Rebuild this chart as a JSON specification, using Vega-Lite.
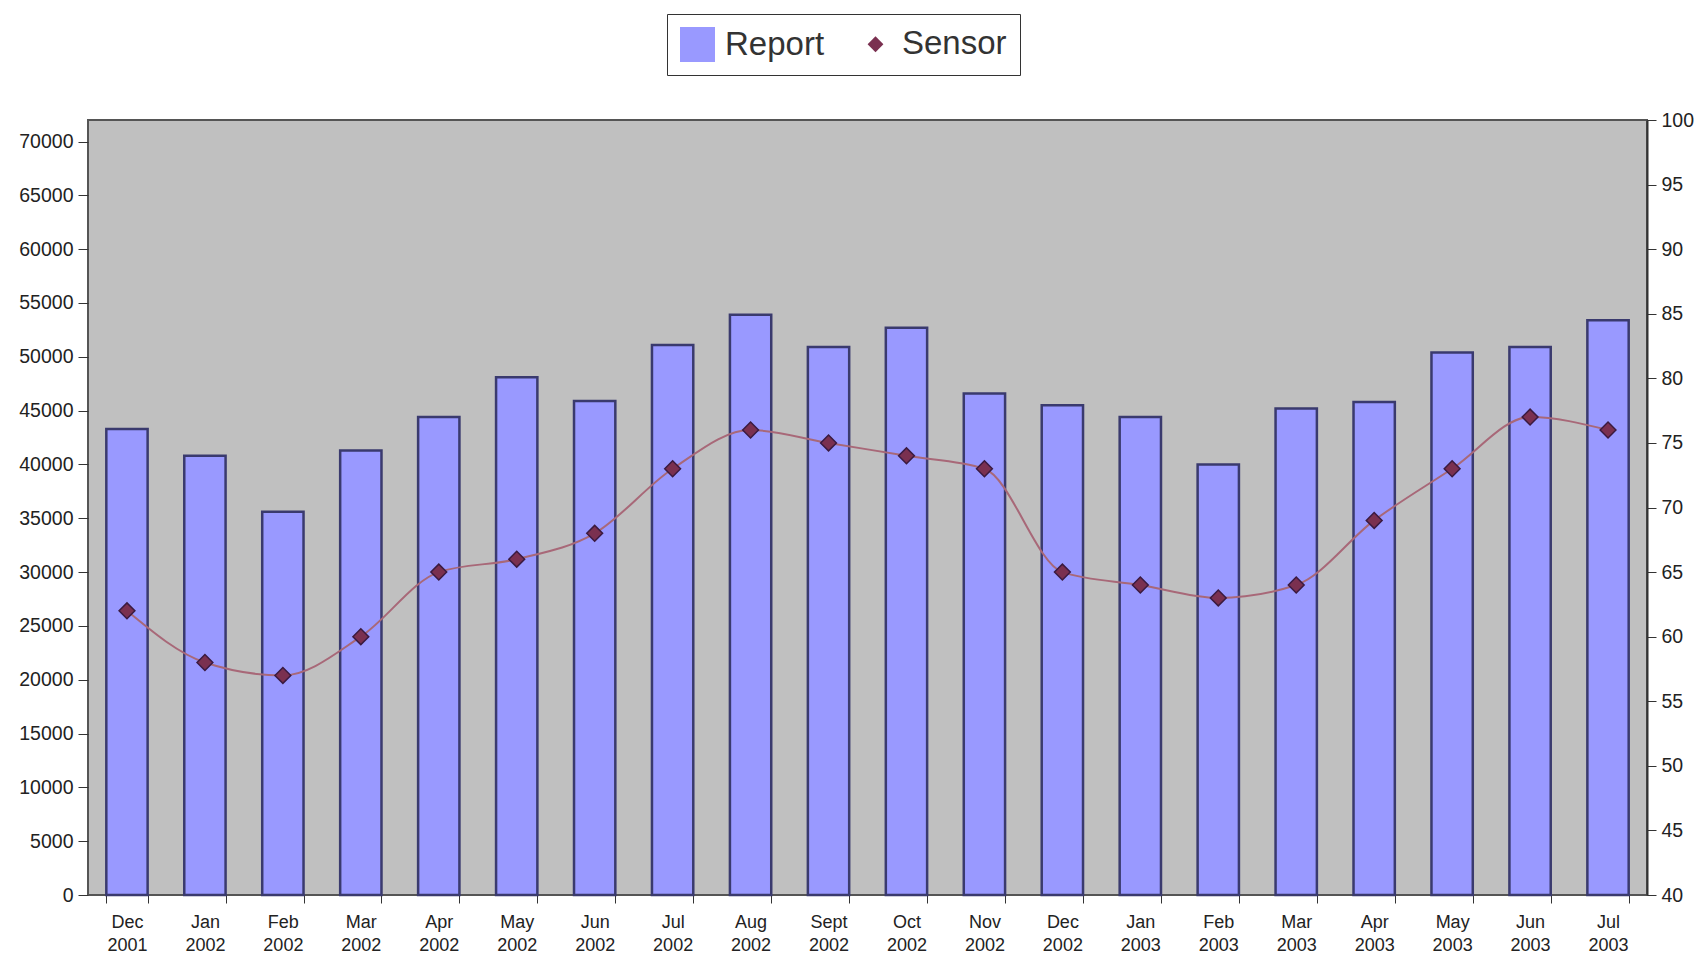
{
  "$schema": "https://vega.github.io/schema/vega-lite/v6.json",
  "autosize": {"type": "none"},
  "padding": {"left": 88, "top": 120, "right": 55, "bottom": 61},
  "width": 1559,
  "height": 775,
  "background": "white",
  "config": {
    "font": "Liberation Sans",
    "view": {"fill": "#c0c0c0", "stroke": "#555555", "strokeWidth": 2},
    "axis": {"labelFont": "Liberation Sans", "labelColor": "#222222", "tickColor": "#333333", "domainColor": "#333333", "grid": false, "title": null},
    "legend": {
      "orient": "none",
      "legendX": 579,
      "legendY": -106,
      "direction": "horizontal",
      "strokeColor": "#333333",
      "fillColor": "white",
      "padding": 13,
      "labelFontSize": 33,
      "labelColor": "#333333",
      "labelFont": "Liberation Sans",
      "columnPadding": 34,
      "labelOffset": 10,
      "symbolStrokeWidth": 0,
      "titleFontSize": 0
    }
  },
  "data": {
    "values": [
      {"month": "Dec 2001", "report": 43300, "sensor": 62},
      {"month": "Jan 2002", "report": 40800, "sensor": 58},
      {"month": "Feb 2002", "report": 35600, "sensor": 57},
      {"month": "Mar 2002", "report": 41300, "sensor": 60},
      {"month": "Apr 2002", "report": 44400, "sensor": 65},
      {"month": "May 2002", "report": 48100, "sensor": 66},
      {"month": "Jun 2002", "report": 45900, "sensor": 68},
      {"month": "Jul 2002", "report": 51100, "sensor": 73},
      {"month": "Aug 2002", "report": 53900, "sensor": 76},
      {"month": "Sept 2002", "report": 50900, "sensor": 75},
      {"month": "Oct 2002", "report": 52700, "sensor": 74},
      {"month": "Nov 2002", "report": 46600, "sensor": 73},
      {"month": "Dec 2002", "report": 45500, "sensor": 65},
      {"month": "Jan 2003", "report": 44400, "sensor": 64},
      {"month": "Feb 2003", "report": 40000, "sensor": 63},
      {"month": "Mar 2003", "report": 45200, "sensor": 64},
      {"month": "Apr 2003", "report": 45800, "sensor": 69},
      {"month": "May 2003", "report": 50400, "sensor": 73},
      {"month": "Jun 2003", "report": 50900, "sensor": 77},
      {"month": "Jul 2003", "report": 53400, "sensor": 76}
    ]
  },
  "encoding": {
    "x": {
      "field": "month",
      "type": "nominal",
      "sort": null,
      "scale": {"paddingInner": 0.47, "paddingOuter": 0.235},
      "axis": {
        "labelAngle": 0,
        "labelExpr": "split(datum.label, ' ')",
        "labelFontSize": 18,
        "labelLineHeight": 23,
        "labelPadding": 10,
        "tickBand": "extent",
        "tickSize": 8,
        "domain": false
      }
    }
  },
  "layer": [
    {
      "mark": {"type": "bar", "stroke": "#3a3a6e", "strokeWidth": 2.5},
      "encoding": {
        "y": {
          "field": "report",
          "type": "quantitative",
          "scale": {"domain": [0, 72000], "nice": false},
          "axis": {
            "orient": "left",
            "values": [0, 5000, 10000, 15000, 20000, 25000, 30000, 35000, 40000, 45000, 50000, 55000, 60000, 65000, 70000],
            "format": "d",
            "labelFontSize": 19.5,
            "tickSize": 10,
            "labelPadding": 5,
            "domain": false
          }
        },
        "color": {
          "datum": "Report",
          "type": "nominal",
          "scale": {"domain": ["Report", "Sensor"], "range": ["#9999ff", "#7a3050"]},
          "legend": {"title": null}
        }
      }
    },
    {
      "encoding": {
        "y": {
          "field": "sensor",
          "type": "quantitative",
          "scale": {"domain": [40, 100], "nice": false, "zero": false},
          "axis": {
            "orient": "right",
            "values": [40, 45, 50, 55, 60, 65, 70, 75, 80, 85, 90, 95, 100],
            "labelFontSize": 19.5,
            "tickSize": 9,
            "labelPadding": 5,
            "domain": true,
            "domainWidth": 2
          }
        }
      },
      "layer": [
        {
          "mark": {"type": "line", "interpolate": "monotone", "color": "#a86878", "strokeWidth": 2}
        },
        {
          "mark": {"type": "point", "filled": true, "opacity": 1, "stroke": "#3a1a40", "strokeWidth": 1.5},
          "encoding": {
            "color": {"datum": "Sensor", "type": "nominal", "legend": {"title": null}},
            "shape": {"datum": "Sensor", "type": "nominal", "scale": {"domain": ["Report", "Sensor"], "range": ["square", "diamond"]}, "legend": {"title": null}},
            "size": {"datum": "Sensor", "type": "ordinal", "scale": {"domain": ["Report", "Sensor"], "range": [1225, 250]}, "legend": {"title": null}}
          }
        }
      ]
    }
  ],
  "resolve": {"scale": {"y": "independent"}}
}
